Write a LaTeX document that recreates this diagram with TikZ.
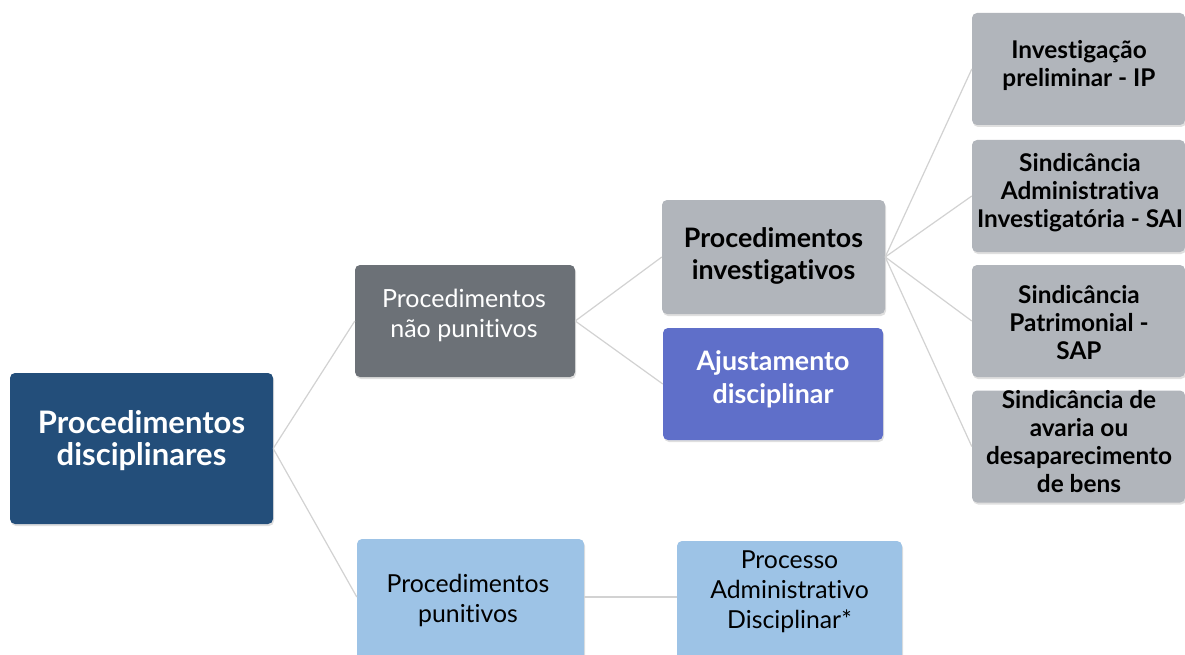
\documentclass[tikz,border=0pt]{standalone}
\usepackage{fontspec}
\setmainfont{Lato}[Ligatures=NoCommon]
\usetikzlibrary{shadows}
\definecolor{rootc}{HTML}{234E7A}
\definecolor{npc}{HTML}{6C7177}
\definecolor{greyc}{HTML}{B1B5BB}
\definecolor{ajc}{HTML}{5F6FC9}
\definecolor{bluec}{HTML}{9DC3E6}
\definecolor{linec}{HTML}{D2D2D2}
\tikzset{
  box/.style={rectangle, rounded corners=5pt, inner sep=0pt,
    drop shadow={opacity=0.25, shadow xshift=1pt, shadow yshift=-2pt}},
  txt/.style={inner sep=0pt, align=center},
  conn/.style={draw=linec, line width=1.2pt},
}
\begin{document}
\begin{tikzpicture}[x=1pt,y=-1pt]
\useasboundingbox (0,0) rectangle (1185,655);
\clip (0,0) rectangle (1185,655);
\fill[white] (0,0) rectangle (1185,655);
% boxes
\node[box, fill=rootc, minimum width=263pt, minimum height=151pt] (root) at (141.5,448.5) {};
\node[box, fill=npc, minimum width=220pt, minimum height=112pt] (np) at (465,321) {};
\node[box, fill=greyc, minimum width=223pt, minimum height=114pt] (inv) at (773.5,257) {};
\node[box, fill=ajc, minimum width=220pt, minimum height=112pt] (aj) at (773,384) {};
\node[box, fill=bluec, minimum width=227pt, minimum height=130pt] (pu) at (470.5,604) {};
\node[box, fill=bluec, minimum width=225pt, minimum height=130pt] (pad) at (789.5,606) {};
\tikzset{rbox/.style={box, fill=greyc, minimum width=213pt, minimum height=112pt}}
\node[rbox] (ip) at (1078.5,69) {};
\node[rbox] (sai) at (1078.5,196) {};
\node[rbox] (sap) at (1078.5,321) {};
\node[rbox] (sab) at (1078.5,446.5) {};
% connectors
\draw[conn] (root.east) -- (np.west);
\draw[conn] (root.east) -- ([yshift=7pt]pu.west);
\draw[conn] ([yshift=7pt]pu.east) -- ([yshift=9pt]pad.west);
\draw[conn] (np.east) -- (inv.west);
\draw[conn] (np.east) -- (aj.west);
\draw[conn] (inv.east) -- (ip.west);
\draw[conn] (inv.east) -- (sai.west);
\draw[conn] (inv.east) -- (sap.west);
\draw[conn] (inv.east) -- (sab.west);
% texts
\node[txt, text=white, font=\bfseries\fontsize{31}{32}\selectfont] (rootT) at (141.5,441)
  {Procedimentos\\disciplinares};
\node[txt, text=white, font=\fontsize{25}{30}\selectfont] (npT) at (464,315)
  {Procedimentos\\não punitivos};
\node[txt, text=black, font=\bfseries\fontsize{26.8}{32}\selectfont] (invT) at (773.5,255.5)
  {Procedimentos\\investigativos};
\node[txt, text=white, font=\bfseries\fontsize{26.8}{33}\selectfont] (ajT) at (773,379.5)
  {Ajustamento\\disciplinar};
\node[txt, text=black, font=\fontsize{24.8}{30}\selectfont] (puT) at (468,600)
  {Procedimentos\\punitivos};
\node[txt, text=black, font=\fontsize{24.8}{30}\selectfont] (padT) at (789.5,591.5)
  {Processo\\Administrativo\\Disciplinar*};
\tikzset{rtxt/.style={txt, text=black, font=\bfseries\fontsize{24.4}{28}\selectfont}}
\node[rtxt] (ipT) at (1079,65) {Investigação\\preliminar - IP};
\node[rtxt] (saiT) at (1080,193) {Sindicância\\Administrativa\\Investigatória - SAI};
\node[rtxt] (sapT) at (1079,323) {Sindicância\\Patrimonial -\\SAP};
\node[rtxt] (sabT) at (1079,442) {Sindicância de\\avaria ou\\desaparecimento\\de bens};
\end{tikzpicture}
\end{document}
